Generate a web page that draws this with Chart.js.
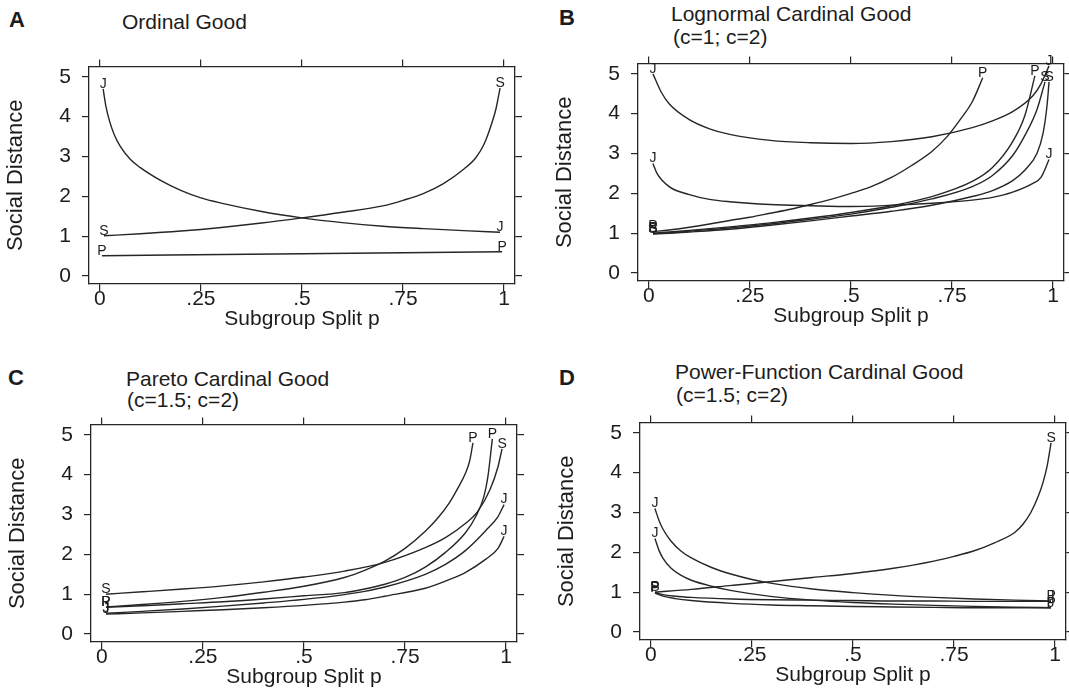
<!DOCTYPE html>
<html><head><meta charset="utf-8">
<script src="https://cdn.jsdelivr.net/npm/chart.js@4.4.1/dist/chart.umd.min.js"></script>
<style>
html,body{margin:0;padding:0;background:#fff;}
body{width:1069px;height:692px;overflow:hidden;position:relative;font-family:"Liberation Sans",Arial,sans-serif;color:#1c1c1c}
canvas{position:absolute}
.t{position:absolute;font-size:21px;line-height:22px;white-space:nowrap}
.l{position:absolute;font-size:22px;font-weight:bold;line-height:22px}
</style></head><body>
<div class="l" style="left:9px;top:9px">A</div>
<div class="t" style="left:122px;top:11px">Ordinal Good</div>
<div class="l" style="left:559px;top:7px">B</div>
<div class="t" style="left:671px;top:3px">Lognormal Cardinal Good</div>
<div class="t" style="left:673px;top:26px">(c=1; c=2)</div>
<div class="l" style="left:8px;top:367px">C</div>
<div class="t" style="left:126px;top:368px">Pareto Cardinal Good</div>
<div class="t" style="left:127px;top:389px">(c=1.5; c=2)</div>
<div class="l" style="left:559px;top:367px">D</div>
<div class="t" style="left:675px;top:361px">Power-Function Cardinal Good</div>
<div class="t" style="left:676px;top:384px">(c=1.5; c=2)</div>
<canvas id="cA" width="534" height="300" style="left:0px;top:45px"></canvas>
<canvas id="cB" width="534" height="300" style="left:549px;top:42px"></canvas>
<canvas id="cC" width="534" height="300" style="left:2px;top:403px"></canvas>
<canvas id="cD" width="534" height="300" style="left:551px;top:401px"></canvas>
<script>
// ---- tick values & labels ----
const xTickValues = [0, 0.25, 0.5, 0.75, 1];
const xTickLabels = ['0', '.25', '.5', '.75', '1'];
const yTickValues = [0, 1, 2, 3, 4, 5];
const yTickLabels = ['0', '1', '2', '3', '4', '5'];

// ---- Panel A: Ordinal Good  [p, social distance] ----
const A_J = [[0.008,4.7],[0.015,4.25],[0.025,3.85],[0.035,3.56],[0.05,3.26],[0.075,2.93],[0.1,2.72],[0.15,2.4],[0.2,2.15],[0.25,1.96],[0.3,1.83],[0.4,1.62],[0.5,1.46],[0.6,1.34],[0.7,1.25],[0.8,1.19],[0.9,1.14],[0.99,1.1]];
const A_S = [[0.01,1.01],[0.1,1.06],[0.2,1.13],[0.3,1.22],[0.4,1.33],[0.5,1.46],[0.6,1.6],[0.7,1.76],[0.75,1.9],[0.8,2.07],[0.85,2.32],[0.9,2.68],[0.93,2.97],[0.95,3.3],[0.97,3.85],[0.98,4.2],[0.99,4.72]];
const A_P = [[0.005,0.51],[0.5,0.56],[0.995,0.61]];

// ---- Panel B: Lognormal Cardinal Good ----
const B_J1 = [[0.01,5.0],[0.03,4.55],[0.05,4.25],[0.1,3.85],[0.15,3.62],[0.2,3.48],[0.3,3.33],[0.4,3.27],[0.5,3.25],[0.6,3.3],[0.7,3.42],[0.8,3.65],[0.85,3.82],[0.9,4.05],[0.95,4.45],[0.97,4.75],[0.99,5.2]];
const B_J2 = [[0.01,2.75],[0.02,2.5],[0.05,2.17],[0.1,1.97],[0.15,1.85],[0.2,1.79],[0.3,1.72],[0.4,1.69],[0.5,1.67],[0.6,1.7],[0.7,1.75],[0.8,1.83],[0.85,1.9],[0.9,2.03],[0.95,2.25],[0.97,2.4],[0.99,2.85]];
const B_P1 = [[0.01,1.04],[0.05,1.08],[0.1,1.15],[0.15,1.23],[0.2,1.32],[0.25,1.4],[0.3,1.5],[0.35,1.6],[0.4,1.72],[0.45,1.85],[0.5,2.0],[0.55,2.17],[0.6,2.4],[0.65,2.7],[0.7,3.05],[0.74,3.45],[0.77,3.85],[0.8,4.3],[0.826,4.9]];
const B_P2 = [[0.01,1.0],[0.05,1.03],[0.1,1.07],[0.2,1.16],[0.3,1.26],[0.4,1.38],[0.5,1.52],[0.6,1.69],[0.7,1.92],[0.8,2.3],[0.85,2.65],[0.9,3.3],[0.93,3.95],[0.955,4.95]];
const B_S1 = [[0.01,0.99],[0.05,1.01],[0.1,1.05],[0.2,1.13],[0.3,1.23],[0.4,1.35],[0.5,1.48],[0.6,1.65],[0.7,1.86],[0.8,2.17],[0.85,2.45],[0.9,2.95],[0.93,3.45],[0.96,4.1],[0.98,4.8]];
const B_S2 = [[0.01,0.98],[0.05,1.0],[0.1,1.03],[0.2,1.1],[0.3,1.2],[0.4,1.31],[0.5,1.43],[0.6,1.55],[0.7,1.7],[0.8,1.92],[0.85,2.07],[0.9,2.32],[0.93,2.58],[0.96,3.0],[0.975,3.5],[0.985,4.2],[0.99,4.8]];

// ---- Panel C: Pareto Cardinal Good ----
const C_S = [[0.01,1.0],[0.1,1.06],[0.2,1.13],[0.3,1.21],[0.4,1.31],[0.5,1.43],[0.6,1.58],[0.7,1.8],[0.8,2.17],[0.85,2.42],[0.9,2.78],[0.93,3.08],[0.96,3.62],[0.98,4.2],[0.99,4.65]];
const C_P1 = [[0.01,0.68],[0.1,0.74],[0.2,0.82],[0.3,0.92],[0.4,1.05],[0.5,1.2],[0.6,1.42],[0.65,1.6],[0.7,1.83],[0.75,2.15],[0.8,2.58],[0.83,2.9],[0.86,3.3],[0.88,3.65],[0.9,4.05],[0.91,4.35],[0.918,4.8]];
const C_P2 = [[0.01,0.67],[0.1,0.71],[0.2,0.76],[0.3,0.81],[0.4,0.88],[0.5,0.96],[0.6,1.04],[0.65,1.13],[0.7,1.25],[0.75,1.42],[0.8,1.68],[0.85,2.05],[0.9,2.55],[0.925,2.95],[0.945,3.45],[0.955,3.95],[0.966,4.9]];
const C_J1 = [[0.01,0.52],[0.1,0.57],[0.2,0.63],[0.3,0.7],[0.4,0.78],[0.5,0.87],[0.6,0.99],[0.65,1.07],[0.7,1.18],[0.8,1.5],[0.85,1.75],[0.9,2.1],[0.95,2.6],[0.98,2.95],[0.995,3.25]];
const C_J2 = [[0.01,0.5],[0.1,0.53],[0.2,0.57],[0.3,0.61],[0.4,0.66],[0.5,0.72],[0.6,0.8],[0.65,0.86],[0.7,0.95],[0.8,1.15],[0.85,1.33],[0.9,1.55],[0.95,1.88],[0.98,2.15],[0.995,2.45]];

// ---- Panel D: Power-Function Cardinal Good ----
const D_S = [[0.01,1.0],[0.1,1.07],[0.2,1.17],[0.25,1.22],[0.3,1.27],[0.4,1.37],[0.5,1.47],[0.6,1.6],[0.7,1.78],[0.75,1.9],[0.8,2.04],[0.85,2.24],[0.9,2.5],[0.92,2.7],[0.94,3.0],[0.96,3.45],[0.97,3.75],[0.98,4.15],[0.99,4.75]];
const D_J1 = [[0.01,3.1],[0.02,2.8],[0.03,2.58],[0.05,2.28],[0.075,2.03],[0.1,1.86],[0.15,1.62],[0.2,1.45],[0.25,1.32],[0.3,1.22],[0.4,1.08],[0.5,0.99],[0.6,0.92],[0.7,0.87],[0.8,0.83],[0.9,0.8],[0.99,0.78]];
const D_J2 = [[0.01,2.35],[0.02,2.05],[0.03,1.85],[0.05,1.6],[0.075,1.42],[0.1,1.3],[0.15,1.15],[0.2,1.04],[0.3,0.89],[0.4,0.8],[0.5,0.74],[0.6,0.7],[0.7,0.67],[0.8,0.645],[0.9,0.625],[0.99,0.61]];
const D_P1 = [[0.01,1.0],[0.03,0.94],[0.06,0.9],[0.1,0.87],[0.2,0.83],[0.3,0.81],[0.4,0.8],[0.5,0.79],[0.6,0.78],[0.7,0.78],[0.8,0.77],[0.9,0.77],[0.99,0.77]];
const D_P2 = [[0.01,0.98],[0.03,0.9],[0.06,0.84],[0.1,0.79],[0.2,0.72],[0.3,0.68],[0.4,0.66],[0.5,0.64],[0.6,0.63],[0.7,0.62],[0.8,0.61],[0.9,0.61],[0.99,0.61]];

const LINE = '#262626';
const INK = '#1c1c1c';
const FONT = '"Liberation Sans", Arial, sans-serif';

const endLabels = {
  id: 'endLabels',
  afterDatasetsDraw(chart) {
    const ctx = chart.ctx;
    ctx.save();
    ctx.font = '14px ' + FONT;
    ctx.fillStyle = INK;
    ctx.textAlign = 'center';
    ctx.textBaseline = 'bottom';
    chart.data.datasets.forEach((ds, i) => {
      const pts = chart.getDatasetMeta(i).data;
      if (!pts.length) return;
      [pts[0], pts[pts.length - 1]].forEach(pt => ctx.fillText(ds.label, pt.x, pt.y + 2));
    });
    ctx.restore();
  }
};

function series(letter, arr) {
  return {
    label: letter,
    data: arr.map(([x, y]) => ({x, y})),
    borderColor: LINE, borderWidth: 1.4, pointRadius: 0, fill: false,
    cubicInterpolationMode: 'monotone'
  };
}

function xAxis(pos) {
  const isBottom = pos === 'bottom';
  return {
    type: 'linear', position: pos, min: -0.027, max: 1.027,
    afterBuildTicks: s => { s.ticks = xTickValues.map(v => ({value: v})); },
    afterFit: s => { s.height = isBottom ? 61 : 8; },
    ticks: {
      display: isBottom, autoSkip: false, maxRotation: 0, padding: -2, color: INK,
      font: {family: FONT, size: 21, lineHeight: 1},
      callback: v => xTickLabels[xTickValues.indexOf(v)]
    },
    grid: {drawOnChartArea: false, drawTicks: true, tickLength: 7, color: LINE, lineWidth: 1.2},
    border: {display: true, color: LINE, width: 1.3},
    title: {display: isBottom, text: 'Subgroup Split p', color: INK,
      font: {family: FONT, size: 21, lineHeight: 1.2}, padding: {top: 0, bottom: 13}}
  };
}
function yAxis(pos) {
  const isLeft = pos === 'left';
  return {
    type: 'linear', position: pos, min: -0.2, max: 5.26,
    afterBuildTicks: s => { s.ticks = yTickValues.map(v => ({value: v})); },
    afterFit: s => { s.width = isLeft ? 89 : 8; },
    ticks: {
      display: isLeft, padding: 11, color: INK,
      font: {family: FONT, size: 21, lineHeight: 1},
      callback: v => yTickLabels[yTickValues.indexOf(v)]
    },
    grid: {drawOnChartArea: false, drawTicks: true, tickLength: 7, color: LINE, lineWidth: 1.2},
    border: {display: true, color: LINE, width: 1.3},
    title: {display: isLeft, text: 'Social Distance', color: INK,
      font: {family: FONT, size: 22, lineHeight: 1.2}, padding: {top: 3, bottom: 0}}
  };
}

function panel(id, datasets) {
  new Chart(document.getElementById(id), {
    type: 'line',
    data: {datasets},
    options: {
      responsive: false, animation: false, devicePixelRatio: 1,
      layout: {padding: {top: 9, right: 11, left: 0, bottom: 0}},
      plugins: {legend: {display: false}, tooltip: {enabled: false}, title: {display: false}},
      scales: {x: xAxis('bottom'), xTop: xAxis('top'), y: yAxis('left'), yRight: yAxis('right')}
    },
    plugins: [endLabels]
  });
}

panel('cA', [series('J', A_J), series('S', A_S), series('P', A_P)]);
panel('cB', [series('J', B_J1), series('J', B_J2), series('P', B_P1), series('P', B_P2), series('S', B_S1), series('S', B_S2)]);
panel('cC', [series('S', C_S), series('P', C_P1), series('P', C_P2), series('J', C_J1), series('J', C_J2)]);
panel('cD', [series('S', D_S), series('J', D_J1), series('J', D_J2), series('P', D_P1), series('P', D_P2)]);
</script>
</body></html>
